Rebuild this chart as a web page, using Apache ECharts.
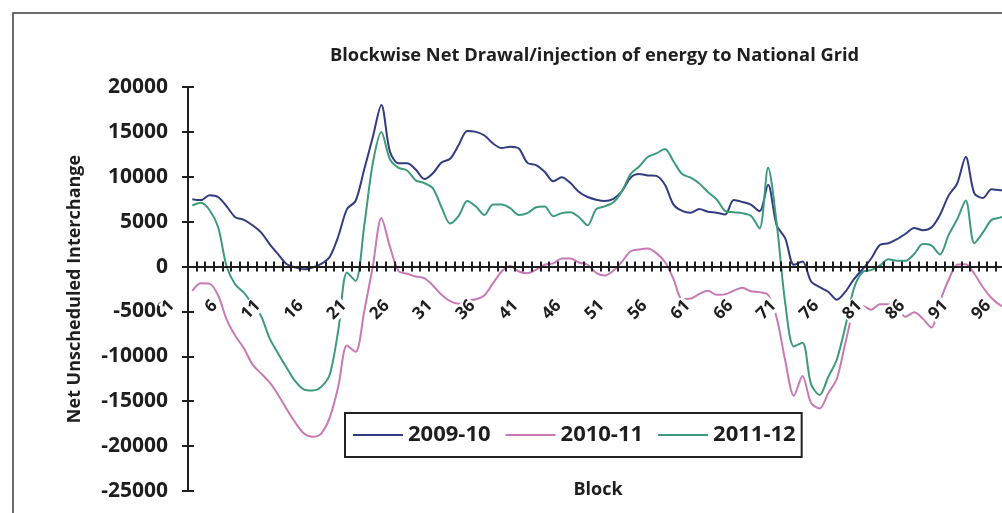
<!DOCTYPE html>
<html>
<head>
<meta charset="utf-8">
<script src="https://cdn.jsdelivr.net/npm/echarts@6/dist/echarts.min.js"></script>
<style>
  html, body { margin: 0; padding: 0; background: #ffffff; }
  #chart { width: 1002px; height: 513px; }
</style>
</head>
<body>
<div id="chart"></div>
<script>
// Blocks of the day (15-minute blocks 1..96)
const blocks = Array.from({ length: 96 }, (_, i) => String(i + 1));

// Y axis range and step
const yMin = -25000;
const yMax = 20000;
const yStep = 5000;

// Series names
const seriesNames = ['2009-10', '2010-11', '2011-12'];

// Net unscheduled interchange per block, 2009-10
const fy2009 = [
  7500, 7400, 7950, 7750, 6700, 5500, 5200, 4600, 3800, 2500,
  1350, 250, -100, -300, -100, 300, 1100, 3400, 6400, 7300,
  10800, 14400, 18000, 12800, 11500, 11500, 10800, 9750, 10400, 11600,
  12000, 13550, 15100, 15000, 14600, 13700, 13200, 13350, 13150, 11550,
  11300, 10550, 9500, 9950, 9300, 8300, 7750, 7450, 7300, 7550,
  8400, 9900, 10300, 10150, 10100, 9100, 6900, 6200, 6000, 6400,
  6100, 6000, 5800, 7400, 7200, 6900, 6150, 9100, 4600, 3150,
  200, 550, -1650, -2300, -2800, -3700, -2800, -1400, -300, 900,
  2400, 2600, 3050, 3650, 4300, 4050, 4350, 5750, 7900, 9250,
  12200, 8150, 7650, 8600, 8500, 8500
];

// Net unscheduled interchange per block, 2010-11
const fy2010 = [
  -2700, -1850, -1900, -3200, -5900, -7700, -9100, -10900, -11900, -12900,
  -14300, -15900, -17400, -18600, -18950, -18600, -16800, -13300, -8800, -9500,
  -5000, 0, 5400, 2200, -500, -800, -1100, -1300, -2100, -3150,
  -3850, -4150, -3800, -3650, -3200, -1850, -550, 50, -550, -750,
  -350, 200, 350, 900, 900, 450, 200, -700, -1000, -450,
  550, 1700, 1900, 2000, 1500, 500, -1400, -3600, -3550, -3050,
  -2700, -3150, -3100, -2700, -2350, -2750, -2850, -3150, -5700, -10500,
  -14400, -12200, -15200, -15800, -14100, -12500, -8500, -4900, -4400, -4800,
  -4200, -4200, -4500, -5600, -5100, -5800, -6800, -3900, -1500, 200,
  250, -800, -2300, -3500, -4300, -4600
];

// Net unscheduled interchange per block, 2011-12
const fy2011 = [
  6800, 7100, 6300, 4400, 0, -2000, -2900, -4200, -5500, -8000,
  -9700, -11300, -12800, -13700, -13800, -13400, -12000, -7000, -650, -1600,
  4500, 11500, 15000, 11950, 11000, 10700, 9600, 9300, 8700, 6600,
  4800, 5650, 7300, 6700, 5750, 6900, 6900, 6500, 5750, 5950,
  6600, 6700, 5600, 5950, 6050, 5500, 4600, 6400, 6700, 7150,
  8400, 10300, 11150, 12200, 12600, 13100, 11700, 10300, 9900, 9250,
  8300, 7500, 6200, 6050, 5950, 5650, 4250, 11000, 4800, -4100,
  -8900, -8500, -13100, -14300, -12300, -10350, -6650, -2400, -600, -400,
  100, 800, 650, 650, 1400, 2500, 2350, 1350, 3500, 5250,
  7350, 2600, 3800, 5200, 5450, 5750
];

const FONT = "'Open Sans', 'DejaVu Sans', sans-serif";
const INK = '#1e1e1e';
const lineColors = ['#323c80', '#c77ab6', '#3d9b7a'];

// Plot box, in pixels
const GRID = { left: 188, right: -11, top: 87, bottom: 22 };
const CHART_H = 513;
// distance from the bottom of the plot up to the zero line
const zeroLift = (CHART_H - GRID.top - GRID.bottom) * (0 - yMin) / (yMax - yMin);

const chart = echarts.init(document.getElementById('chart'), null, { renderer: 'canvas' });

const axisLineStyle = { color: INK, width: 2 };
const blockLabelFont = { fontFamily: FONT, fontWeight: 'bold', fontSize: 17, color: INK };

chart.setOption({
  animation: false,
  backgroundColor: '#ffffff',
  title: {
    text: 'Blockwise Net Drawal/injection of energy to National Grid',
    left: 325,
    top: 42,
    textStyle: { fontFamily: FONT, fontWeight: 'bold', fontSize: 18.3, color: INK }
  },
  legend: {
    data: seriesNames,
    left: 345,
    top: 413,
    icon: 'rect',
    itemWidth: 50,
    itemHeight: 2,
    itemGap: 15,
    padding: [8, 6, 8, 8],
    borderColor: '#222222',
    borderWidth: 2,
    backgroundColor: '#ffffff',
    textStyle: { fontFamily: FONT, fontWeight: 'bold', fontSize: 22, color: INK, lineHeight: 28 }
  },
  grid: Object.assign({}, GRID, {
    outerBounds: { left: -2000, top: -2000, right: -2000, bottom: -2000 }
  }),
  graphic: [
    {
      type: 'rect',
      silent: true,
      shape: { x: 13, y: 13, width: 1010, height: 520 },
      style: { fill: 'none', stroke: '#3c3c3c', lineWidth: 1.5 }
    },
    {
      // category axis title, placed under the plot
      type: 'text',
      silent: true,
      x: 598,
      y: 490,
      style: {
        text: 'Block',
        fontFamily: FONT,
        fontWeight: 'bold',
        fontSize: 18,
        fill: INK,
        align: 'center',
        verticalAlign: 'middle'
      }
    }
  ],
  xAxis: [
    {
      type: 'category',
      data: blocks,
      boundaryGap: true,
      position: 'bottom',
      offset: -zeroLift,
      z: 4,
      axisLine: { show: true, onZero: false, lineStyle: axisLineStyle },
      axisTick: { show: true, interval: 0, length: 5, lineStyle: axisLineStyle },
      axisLabel: {
        show: true,
        interval: 4,
        rotate: 45,
        margin: 16,
        // block number on a white chip, then a blank spacer that pulls it back from the tick
        formatter: v => '{t|' + v + '}{g| }',
        rich: {
          t: Object.assign({ backgroundColor: '#ffffff', padding: [0, 1] }, blockLabelFont),
          g: { width: 28 }
        },
        fontFamily: FONT,
        fontWeight: 'bold',
        fontSize: 17,
        color: INK
      },
      splitLine: { show: false }
    },
    {
      // inner half of the crossing tick marks
      type: 'category',
      data: blocks,
      boundaryGap: true,
      position: 'bottom',
      offset: -zeroLift,
      z: 4,
      axisLine: { show: false, onZero: false },
      axisTick: { show: true, inside: true, interval: 0, length: 5, lineStyle: axisLineStyle },
      axisLabel: { show: false },
      splitLine: { show: false }
    }
  ],
  yAxis: [
    {
      type: 'value',
      min: yMin,
      max: yMax,
      interval: yStep,
      axisLine: { show: true, lineStyle: axisLineStyle },
      axisTick: { show: true, length: 6, lineStyle: axisLineStyle },
      axisLabel: {
        margin: 20,
        formatter: v => String(v),
        fontFamily: FONT,
        fontWeight: 'bold',
        fontSize: 21,
        color: INK
      },
      splitLine: { show: false },
      name: 'Net Unscheduled Interchange',
      nameLocation: 'middle',
      nameGap: 104,
      nameRotate: 90,
      nameTextStyle: { fontFamily: FONT, fontWeight: 'bold', fontSize: 18, color: INK }
    },
    {
      // inner half of the crossing tick marks
      type: 'value',
      position: 'left',
      min: yMin,
      max: yMax,
      interval: yStep,
      axisLine: { show: false },
      axisTick: { show: true, inside: true, length: 6, lineStyle: axisLineStyle },
      axisLabel: { show: false },
      splitLine: { show: false }
    }
  ],
  series: [fy2009, fy2010, fy2011].map((vals, i) => ({
    name: seriesNames[i],
    type: 'line',
    data: vals,
    xAxisIndex: 0,
    yAxisIndex: 0,
    smooth: 0.3,
    symbol: 'none',
    lineStyle: { color: lineColors[i], width: 2 },
    itemStyle: { color: lineColors[i] }
  }))
});
</script>
</body>
</html>
